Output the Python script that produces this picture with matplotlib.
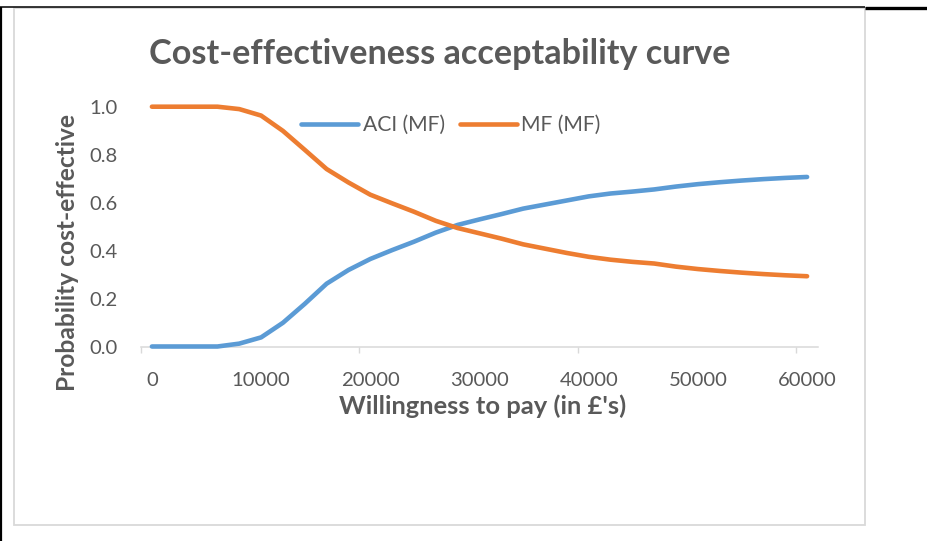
import matplotlib
matplotlib.use("Agg")
import matplotlib.pyplot as plt
from matplotlib.patches import Rectangle

# Willingness-to-pay thresholds (GBP) and probability each option is cost-effective
wtp = [0, 2000, 4000, 6000, 8000, 10000, 12000, 14000, 16000, 18000,
       20000, 22000, 24000, 26000, 28000, 30000, 32000, 34000, 36000, 38000,
       40000, 42000, 44000, 46000, 48000, 50000, 52000, 54000, 56000, 58000,
       60000]
aci_mf = [0.0, 0.0, 0.0, 0.0, 0.012, 0.038, 0.099, 0.178, 0.262, 0.319,
          0.365, 0.402, 0.437, 0.475, 0.507, 0.530, 0.552, 0.575, 0.592, 0.609,
          0.626, 0.638, 0.646, 0.655, 0.667, 0.677, 0.685, 0.692, 0.698, 0.703,
          0.707]
mf_mf = [1.0, 1.0, 1.0, 1.0, 0.990, 0.963, 0.899, 0.820, 0.740, 0.684,
         0.633, 0.597, 0.562, 0.524, 0.494, 0.472, 0.450, 0.426, 0.408, 0.390,
         0.374, 0.362, 0.353, 0.346, 0.333, 0.323, 0.315, 0.308, 0.302, 0.297,
         0.293]
series_names = ["ACI (MF)", "MF (MF)"]
x_tick_values = [0, 10000, 20000, 30000, 40000, 50000, 60000]
y_tick_values = [0.0, 0.2, 0.4, 0.6, 0.8, 1.0]

title_text = "Cost-effectiveness acceptability curve"
x_label = "Willingness to pay (in £'s)"
y_label = "Probability cost-effective"

BLUE = "#5B9BD5"
ORANGE = "#ED7D31"
TEXT = "#595959"
GRID = "#D9D9D9"

W, H = 928, 541
fig = plt.figure(figsize=(W / 100, H / 100), dpi=100)
fig.patch.set_facecolor("white")


def fx(px):
    return px / W


def fy(py):
    return 1 - py / H


# page frame: outer black rules and the light chart-area border
frame = fig.add_axes([0, 0, 1, 1], zorder=0)
frame.set_xlim(0, W)
frame.set_ylim(H, 0)
frame.axis("off")
frame.add_patch(Rectangle((14, 8), 851, 517, fill=False, edgecolor=GRID, lw=1.3))
frame.plot([0, 865], [7.2, 7.2], color="black", lw=1.1, solid_capstyle="butt")
frame.plot([865, W], [8.0, 8.0], color="black", lw=2.4, solid_capstyle="butt")
frame.plot([1.0, 1.0], [7, H], color="black", lw=1.6, solid_capstyle="butt")

# plot area
left, right = 141, 818
top, bottom = 106.7, 346.5
ax = fig.add_axes([fx(left), fy(bottom), fx(right - left), (bottom - top) / H], zorder=2)
ax.patch.set_alpha(0)

step = wtp[1] - wtp[0]
ax.set_xlim(wtp[0] - step / 2, wtp[-1] + step / 2)
ax.set_ylim(0, 1)

lw = 3.3
ax.plot(wtp, aci_mf, color=BLUE, lw=lw, solid_capstyle="round",
        solid_joinstyle="round", clip_on=False, label=series_names[0], zorder=3)
ax.plot(wtp, mf_mf, color=ORANGE, lw=lw, solid_capstyle="round",
        solid_joinstyle="round", clip_on=False, label=series_names[1], zorder=3)

for s in ("top", "right", "left"):
    ax.spines[s].set_visible(False)
ax.spines["bottom"].set_color(GRID)
ax.spines["bottom"].set_linewidth(1.1)
ax.spines["bottom"].set_zorder(1)

tick_font = dict(family="Lato", size=14.6)
ax.set_xticks(x_tick_values)
ax.set_xticklabels([str(v) for v in x_tick_values], fontdict=tick_font, color=TEXT)
ax.tick_params(axis="x", which="major", length=0, pad=18.5)
# tick marks fall on category boundaries every ten categories
ax.set_xticks([wtp[0] - step / 2 + 10 * step * i for i in range(4)], minor=True)
ax.tick_params(axis="x", which="minor", length=4.5, width=1.0, color=GRID, direction="out")

ax.set_yticks(y_tick_values)
ax.set_yticklabels([f"{v:.1f}" for v in y_tick_values], fontdict=tick_font, color=TEXT)
ax.tick_params(axis="y", length=0, pad=16.5)

# legend
leg = ax.legend(loc="center left", bbox_to_anchor=(fx(301), fy(125)),
                bbox_transform=fig.transFigure, ncol=2, frameon=False,
                borderpad=0, borderaxespad=0, handlelength=2.7,
                handletextpad=0.22, columnspacing=0.7,
                prop=dict(family="Lato", size=15.2))
for t in leg.get_texts():
    t.set_color(TEXT)
for h in leg.get_lines():
    h.set_linewidth(lw)
    h.set_solid_capstyle("round")

# titles
title = fig.text(fx(440), fy(64), title_text, ha="center", va="baseline",
                 family="Lato", weight="bold", size=24, color=TEXT)
xl = fig.text(fx(482.5), fy(414), x_label, ha="center", va="baseline",
              family="Lato", weight="bold", size=14, color=TEXT)
yl = fig.text(fx(75), fy(253), y_label, ha="center", va="baseline",
              rotation=90, rotation_mode="anchor",
              family="Lato", weight="bold", size=14, color=TEXT)

# size each heading to the span it occupies
fig.canvas.draw()
renderer = fig.canvas.get_renderer()
for txt, target, horiz in ((title, 582, True), (xl, 288, True), (yl, 278, False)):
    bb = txt.get_window_extent(renderer)
    cur = bb.width if horiz else bb.height
    txt.set_fontsize(txt.get_fontsize() * target / cur)

fig.savefig("out.png", dpi=100, facecolor="white")
